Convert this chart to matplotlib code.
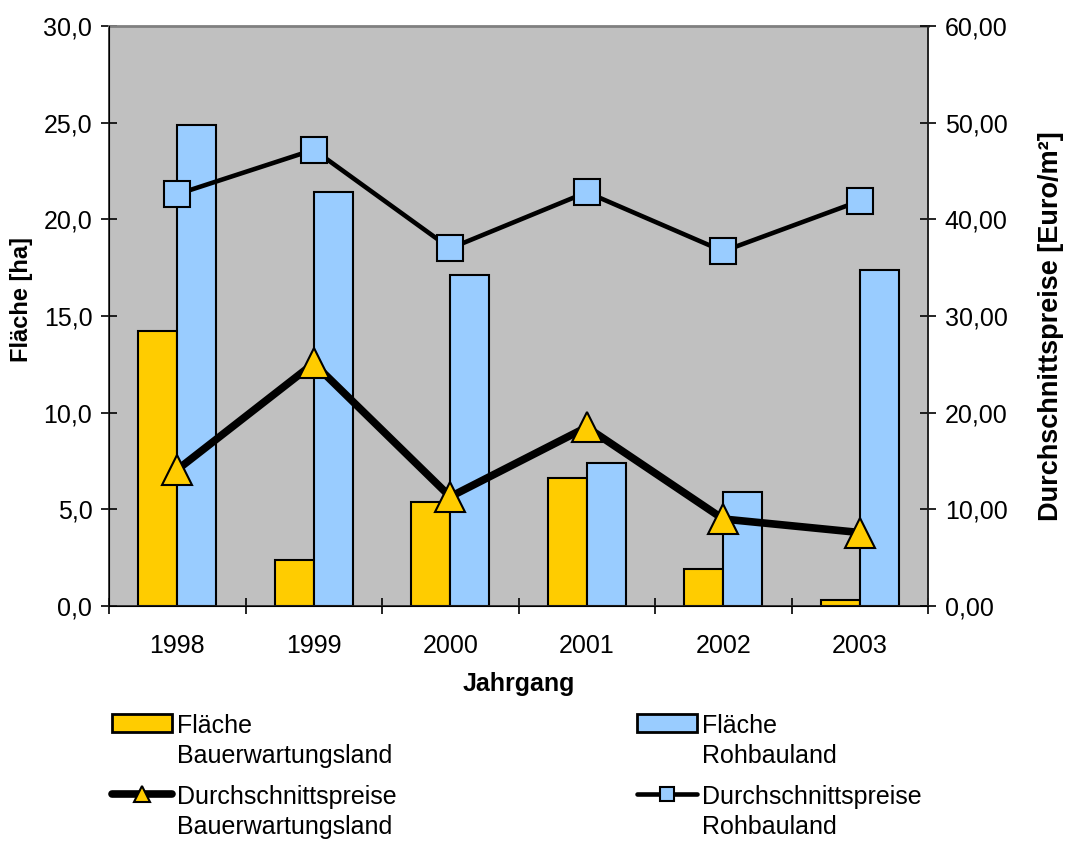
#!/usr/bin/python3
# -*- coding: utf-8 -*-
"""Flächen und Durchschnittspreise, Bauerwartungsland / Rohbauland."""
import matplotlib
matplotlib.use("Agg")
import matplotlib.pyplot as plt
import numpy as np
from matplotlib.ticker import FuncFormatter, FixedLocator

# Daten
jahre = ["1998", "1999", "2000", "2001", "2002", "2003"]
flaeche_bauerwartung = [14.2, 2.4, 5.4, 6.6, 1.9, 0.3]
flaeche_rohbau = [24.9, 21.4, 17.1, 7.4, 5.9, 17.4]
preis_bauerwartung = [14.1, 25.1, 11.3, 18.5, 9.0, 7.6]
preis_rohbau = [42.6, 47.2, 37.0, 42.8, 36.7, 41.9]

GELB = "#FFCC00"
BLAU = "#99CCFF"
GRAU = "#C0C0C0"

plt.rcParams['font.family'] = ['Liberation Sans', 'DejaVu Sans']
plt.rcParams['font.size'] = 18


def komma(nachkomma):
    return FuncFormatter(lambda v, p: ("{:.%df}" % nachkomma).format(v).replace('.', ','))


def main():
    fig = plt.figure(figsize=(10.66, 8.41), dpi=100)
    ax = fig.add_axes([109 / 1066, 1 - 606 / 841, 819 / 1066, 580 / 841])
    ax.set_facecolor(GRAU)

    x = np.arange(len(jahre))
    w = 0.285
    b1 = ax.bar(x - w / 2, flaeche_bauerwartung, w, color=GELB, edgecolor='black',
                linewidth=1.5, label="Fläche\nBauerwartungsland", zorder=2)
    b2 = ax.bar(x + w / 2, flaeche_rohbau, w, color=BLAU, edgecolor='black',
                linewidth=1.5, label="Fläche\nRohbauland", zorder=2)

    ax.set_xlim(-0.5, len(jahre) - 0.5)
    ax.set_ylim(0, 30)
    ax.set_yticks(np.arange(0, 31, 5))
    ax.yaxis.set_major_formatter(komma(1))
    ax.xaxis.set_major_locator(FixedLocator(np.arange(-0.5, len(jahre), 1.0)))
    ax.xaxis.set_major_formatter(FuncFormatter(lambda v, p: ""))
    ax.set_xticks(x, jahre, minor=True)
    ax.tick_params(axis='x', which='major', direction='inout', length=12, width=1.2)
    ax.tick_params(axis='x', which='minor', length=0, pad=20)
    ax.tick_params(axis='y', direction='inout', length=12, width=1.2, pad=6)

    for s in ['left', 'bottom', 'right']:
        ax.spines[s].set_color('#222222')
        ax.spines[s].set_linewidth(1.2)
    ax.spines['top'].set_color('#808080')
    ax.spines['top'].set_linewidth(2)

    ax.set_ylabel("Fläche [ha]", fontweight='bold', fontsize=17)
    ax.yaxis.set_label_coords(-0.0928, 0.528)
    ax.set_xlabel("Jahrgang", fontweight='bold')
    ax.xaxis.set_label_coords(0.5, -0.113)

    ax2 = ax.twinx()
    ax2.set_ylim(0, 60)
    ax2.set_yticks(np.arange(0, 61, 10))
    ax2.yaxis.set_major_formatter(komma(2))
    ax2.tick_params(axis='y', direction='inout', length=12, width=1.2, pad=6)
    ax2.spines['right'].set_color('#222222')
    ax2.spines['right'].set_linewidth(1.2)
    ax2.spines['top'].set_visible(False)
    ax2.set_ylabel("Durchschnittspreise [Euro/m²]", fontweight='bold', fontsize=19.5)
    ax2.yaxis.set_label_coords(1.134, 0.483)

    l1, = ax2.plot(x, preis_bauerwartung, color='black', linewidth=5.5, marker='^',
                   markersize=21, markerfacecolor=GELB, markeredgecolor='black',
                   markeredgewidth=1.5, solid_capstyle='round',
                   label="Durchschnittspreise\nBauerwartungsland")
    l2, = ax2.plot(x, preis_rohbau, color='black', linewidth=3.3, marker='s',
                   markersize=19, markerfacecolor=BLAU, markeredgecolor='black',
                   markeredgewidth=1.5, solid_capstyle='round',
                   label="Durchschnittspreise\nRohbauland")

    # Spaltenweise Reihenfolge: links Bauerwartungsland, rechts Rohbauland
    handles = [b1, l1, b2, l2]
    leg = fig.legend(handles, [h.get_label() for h in handles],
                     loc='upper left', bbox_to_anchor=(112 / 1066, 1 - 714 / 841), ncol=2,
                     frameon=False, borderpad=0, borderaxespad=0, handlelength=2.4,
                     handletextpad=0.2, columnspacing=9.6, labelspacing=0.68,
                     markerscale=0.55, fontsize=18)
    for t in leg.get_texts():
        t.set_linespacing(1.32)
    for p in leg.get_patches():
        p.set_linewidth(2)
    # Symbole an der ersten Textzeile ausrichten
    for col in leg._legend_handle_box.get_children():
        for row in col.get_children():
            row.align = "top"

    fig.savefig("out.png", dpi=100)


if __name__ == "__main__":
    main()
